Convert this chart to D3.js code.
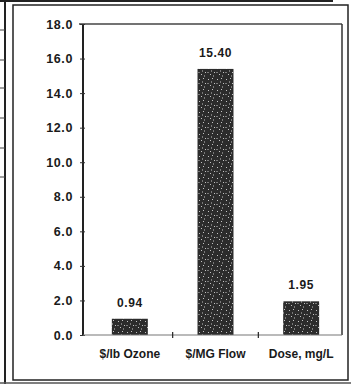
<!DOCTYPE html>
<html>
<head>
<meta charset="utf-8">
<script src="https://cdn.jsdelivr.net/npm/d3@7"></script>
<style>
  html, body { margin: 0; padding: 0; background: #fff; }
  svg { display: block; }
  text { font-family: "Liberation Sans", Arial, sans-serif; fill: #1a1a1a; }
</style>
</head>
<body>
<svg id="chart" width="351" height="384"></svg>
<script>
// Ozone cost comparison
const categories = ["$/lb Ozone", "$/MG Flow", "Dose, mg/L"];
const values = [0.94, 15.40, 1.95];
const valueLabels = ["0.94", "15.40", "1.95"];
const yTicks = [0, 2, 4, 6, 8, 10, 12, 14, 16, 18];

const svg = d3.select("#chart");

// plot area
const plot = { left: 83, right: 342, top: 24, bottom: 335 };

const x = d3.scaleBand()
  .domain(categories)
  .range([87, 344])
  .paddingInner(0.58)
  .paddingOuter(0.29);

const y = d3.scaleLinear()
  .domain([0, 18])
  .range([plot.bottom, plot.top]);

// page edges and outer border
const ink = "#222";
svg.append("line").attr("x1", 0).attr("x2", 333).attr("y1", 1).attr("y2", 1)
  .attr("stroke", ink).attr("stroke-width", 2);
svg.append("line").attr("x1", 5).attr("x2", 5).attr("y1", 0).attr("y2", 384)
  .attr("stroke", ink).attr("stroke-width", 2);
svg.append("line").attr("x1", 0).attr("x2", 351).attr("y1", 383).attr("y2", 383)
  .attr("stroke", "#555").attr("stroke-width", 1.5);
[30, 60, 88, 118, 148, 177].forEach(v => {
  svg.append("line").attr("x1", 0).attr("x2", 5).attr("y1", v).attr("y2", v)
    .attr("stroke", "#444").attr("stroke-width", 1);
});
svg.append("rect").attr("x", 13).attr("y", 5).attr("width", 335).attr("height", 375)
  .attr("fill", "none").attr("stroke", ink).attr("stroke-width", 1.5);

// speckled bar fill
const defs = svg.append("defs");
const pat = defs.append("pattern").attr("id", "speckle")
  .attr("patternUnits", "userSpaceOnUse").attr("width", 9).attr("height", 11);
pat.append("rect").attr("width", 9).attr("height", 11).attr("fill", "#2c2c2c");
[[1, 2], [5, 1], [7, 6], [3, 8], [6, 9.5], [0.5, 6], [4, 4.5]].forEach(([px, py]) => {
  pat.append("rect").attr("x", px).attr("y", py).attr("width", 1).attr("height", 1)
    .attr("fill", "#c4c4c4");
});

// plot frame: top and right edges
svg.append("line").attr("x1", 79).attr("x2", plot.right).attr("y1", plot.top).attr("y2", plot.top)
  .attr("stroke", "#444").attr("stroke-width", 1.5);
svg.append("line").attr("x1", plot.right).attr("x2", plot.right).attr("y1", plot.top).attr("y2", plot.bottom)
  .attr("stroke", "#333").attr("stroke-width", 1.5);

// bars
svg.append("g").selectAll("rect")
  .data(values)
  .join("rect")
  .attr("x", (d, i) => x(categories[i]))
  .attr("y", d => y(d))
  .attr("width", x.bandwidth())
  .attr("height", d => y(0) - y(d))
  .attr("fill", "url(#speckle)");

// value labels
svg.append("g").selectAll("text")
  .data(values)
  .join("text")
  .attr("x", (d, i) => x(categories[i]) + x.bandwidth() / 2)
  .attr("y", d => y(d) - 12)
  .attr("text-anchor", "middle")
  .attr("font-size", 12)
  .attr("font-weight", "bold")
  .attr("letter-spacing", 0.6)
  .text((d, i) => valueLabels[i]);

// y axis
const yAxis = svg.append("g")
  .attr("transform", `translate(${plot.left},0)`)
  .call(d3.axisLeft(y).tickValues(yTicks).tickFormat(d3.format(".1f")).tickSize(3).tickPadding(7));
yAxis.select(".domain").attr("stroke", "#222").attr("stroke-width", 2).attr("d", `M0,${plot.top}V${plot.bottom}`);
yAxis.selectAll(".tick line").attr("x1", -3).attr("x2", 2).attr("stroke", "#333");
yAxis.selectAll(".tick text")
  .attr("font-size", 12.5).attr("font-weight", "bold").attr("letter-spacing", 0.6)
  .attr("font-family", "Liberation Sans, Arial, sans-serif").attr("fill", "#1a1a1a");

// x axis
const xAxis = svg.append("g")
  .attr("transform", `translate(0,${plot.bottom})`)
  .call(d3.axisBottom(x).tickSize(0).tickPadding(14));
xAxis.select(".domain").attr("stroke", "#777").attr("stroke-width", 1.2)
  .attr("d", `M${plot.left},0H${plot.right}`);
xAxis.selectAll(".tick text")
  .attr("font-size", 12).attr("font-weight", "bold")
  .attr("font-family", "Liberation Sans, Arial, sans-serif").attr("fill", "#1a1a1a");

// separators between categories
const bounds = categories.slice(1).map(c => x(c) - x.step() * x.paddingInner() / 2);
xAxis.append("g").selectAll("line")
  .data(bounds)
  .join("line")
  .attr("x1", d => d).attr("x2", d => d)
  .attr("y1", -3).attr("y2", 3)
  .attr("stroke", "#222").attr("stroke-width", 1.2);
</script>
</body>
</html>
